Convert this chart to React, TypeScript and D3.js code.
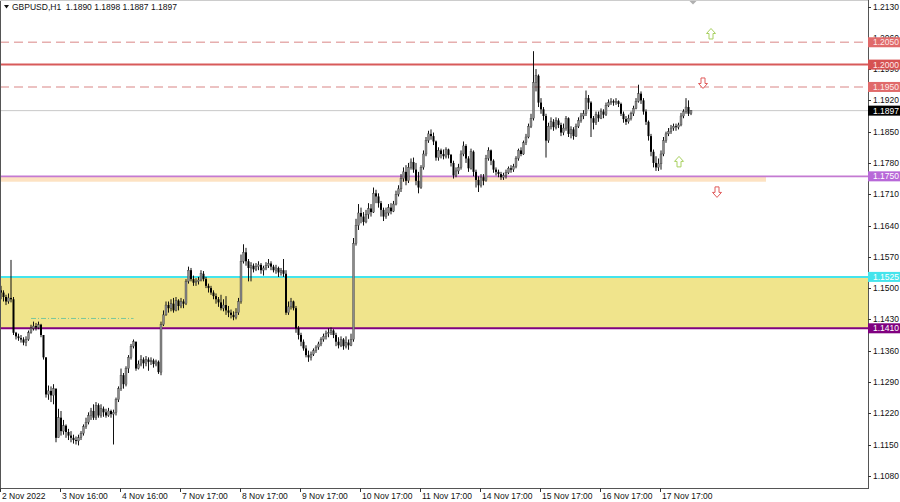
import React from 'react';
import * as d3 from 'd3';

const W = 900;
const H = 502;
const PLOT_R = 868;
const PLOT_B = 488.5;

// GBPUSD H1 candles, prices in 1e-4 units (open = previous close)
const firstOpen = 11495;
const closes = [
  11490,11480,11470,11478,11475,11400,11392,11388,11385,11378,11385,11400,11410,11415,11412,11418,11395,11345,11262,11270,
  11260,11275,11165,11210,11180,11192,11178,11170,11165,11160,11158,11165,11175,11190,11200,11215,11225,11210,11238,11215,
  11230,11222,11215,11225,11218,11222,11250,11275,11305,11285,11320,11345,11370,11380,11320,11330,11340,11332,11340,11335,
  11338,11330,11335,11312,11418,11440,11462,11455,11465,11450,11472,11460,11470,11465,11515,11540,11520,11512,11515,11518,
  11532,11520,11505,11500,11490,11482,11475,11468,11455,11462,11450,11445,11440,11435,11445,11470,11560,11580,11560,11545,
  11550,11542,11548,11552,11540,11545,11550,11555,11548,11540,11545,11535,11540,11532,11445,11458,11470,11455,11410,11395,
  11380,11365,11350,11345,11352,11360,11368,11375,11385,11392,11398,11400,11405,11395,11380,11372,11385,11370,11378,11372,
  11385,11600,11640,11668,11660,11648,11665,11678,11670,11712,11705,11690,11675,11660,11668,11680,11672,11688,11710,11722,
  11745,11760,11740,11770,11782,11765,11740,11725,11770,11800,11830,11845,11840,11828,11792,11808,11800,11795,11810,11798,
  11780,11752,11762,11770,11800,11818,11790,11768,11805,11760,11742,11730,11748,11740,11790,11808,11785,11765,11760,11755,
  11748,11752,11758,11768,11765,11772,11790,11808,11800,11825,11838,11862,11880,11960,11975,11915,11900,11885,11830,11862,
  11872,11860,11875,11865,11848,11858,11880,11845,11855,11840,11862,11875,11885,11890,11925,11915,11880,11870,11888,11880,
  11895,11888,11908,11915,11918,11915,11918,11912,11890,11878,11872,11880,11890,11902,11918,11935,11920,11895,11872,11840,
  11805,11780,11770,11778,11800,11830,11845,11850,11858,11862,11860,11865,11885,11895,11905,11890,11897,
];
const highs = [
  11505,11495,11485,11488,11563,11480,11402,11398,11395,11390,11392,11405,11418,11425,11422,11425,11420,11395,11345,11282,
  11280,11285,11275,11230,11225,11205,11195,11185,11180,11172,11168,11172,11180,11195,11210,11222,11232,11240,11245,11242,
  11240,11235,11230,11232,11228,11228,11255,11280,11320,11310,11325,11350,11375,11385,11380,11338,11350,11345,11348,11345,
  11345,11342,11340,11338,11425,11450,11470,11470,11475,11478,11480,11475,11478,11475,11520,11548,11545,11528,11522,11525,
  11540,11538,11525,11510,11505,11495,11488,11480,11485,11475,11482,11460,11452,11448,11455,11478,11575,11598,11590,11565,
  11558,11555,11556,11560,11556,11550,11558,11565,11560,11552,11552,11548,11545,11565,11540,11470,11478,11472,11460,11415,
  11400,11385,11372,11360,11358,11365,11372,11380,11390,11398,11405,11410,11412,11408,11400,11390,11392,11388,11392,11385,
  11398,11612,11655,11688,11680,11670,11675,11690,11688,11725,11720,11712,11695,11680,11680,11688,11690,11695,11718,11730,
  11755,11770,11775,11780,11790,11792,11780,11760,11775,11808,11838,11852,11855,11848,11830,11815,11812,11810,11815,11812,
  11800,11785,11770,11778,11808,11828,11822,11795,11812,11808,11765,11750,11755,11755,11798,11815,11810,11788,11770,11765,
  11760,11758,11765,11772,11775,11778,11795,11812,11815,11830,11845,11868,11890,12030,11990,11978,11925,11905,11890,11870,
  11882,11878,11882,11880,11870,11868,11885,11882,11862,11860,11868,11882,11892,11898,11942,11932,11918,11885,11895,11895,
  11902,11900,11915,11922,11925,11922,11925,11920,11915,11895,11885,11888,11895,11908,11925,11955,11940,11925,11900,11875,
  11845,11810,11795,11790,11808,11838,11850,11858,11865,11868,11868,11870,11892,11900,11925,11920,11898,
];
const lows = [
  11475,11470,11462,11465,11468,11395,11385,11382,11378,11372,11370,11382,11398,11405,11405,11408,11390,11340,11255,11250,
  11245,11240,11155,11165,11170,11172,11165,11160,11155,11152,11150,11148,11160,11170,11185,11195,11205,11205,11205,11210,
  11210,11212,11210,11212,11210,11150,11215,11245,11270,11275,11280,11310,11340,11365,11315,11318,11325,11320,11325,11315,
  11328,11322,11325,11308,11305,11415,11438,11445,11448,11445,11448,11450,11455,11455,11462,11510,11515,11505,11505,11508,
  11515,11515,11500,11490,11485,11475,11465,11458,11450,11448,11440,11435,11432,11428,11430,11440,11465,11555,11550,11515,
  11515,11535,11538,11540,11532,11528,11540,11545,11540,11535,11532,11525,11528,11525,11440,11440,11452,11450,11400,11385,
  11370,11360,11345,11335,11338,11348,11355,11362,11370,11380,11385,11390,11395,11388,11370,11365,11368,11362,11365,11362,
  11370,11380,11595,11630,11645,11640,11645,11655,11660,11668,11690,11680,11660,11650,11655,11662,11665,11670,11685,11705,
  11715,11738,11730,11735,11765,11758,11730,11712,11722,11765,11795,11825,11832,11820,11785,11785,11790,11788,11790,11790,
  11772,11745,11748,11755,11765,11795,11780,11760,11765,11750,11725,11715,11725,11730,11738,11785,11775,11758,11752,11748,
  11742,11742,11745,11755,11758,11760,11768,11785,11795,11798,11820,11835,11858,11875,11940,11905,11890,11875,11792,11825,
  11855,11852,11855,11858,11840,11842,11852,11838,11835,11832,11838,11858,11870,11878,11885,11900,11838,11855,11865,11872,
  11878,11880,11885,11905,11910,11908,11910,11905,11885,11870,11865,11868,11875,11885,11900,11915,11912,11888,11865,11830,
  11795,11770,11762,11762,11765,11795,11825,11840,11845,11852,11852,11855,11862,11880,11890,11885,11887,
];

const dateLabels = [
  '2 Nov 2022', '3 Nov 16:00', '4 Nov 16:00', '7 Nov 17:00', '8 Nov 17:00', '9 Nov 17:00',
  '10 Nov 17:00', '11 Nov 17:00', '14 Nov 17:00', '15 Nov 17:00', '16 Nov 17:00', '17 Nov 17:00',
];
const dateLabelBars = [0, 24, 48, 72, 96, 120, 144, 168, 192, 216, 240, 264];

const priceTicks = [
  1.1080, 1.1150, 1.1220, 1.1290, 1.1360, 1.1430, 1.1500, 1.1570,
  1.1640, 1.1710, 1.1780, 1.1850, 1.1920, 1.1990, 1.2060, 1.2130,
];

const dashedLevels = [1.2050, 1.1950];
const solidLevel = 1.2000;
const currentPrice = 1.1897;
const pivotLevel = 1.1750;
const pivotBandBottom = 1.1738;
const pivotBandEndBar = 306;
const zoneTop = 1.1525;
const zoneBottom = 1.1410;
const dashDotPrice = 1.1432;
const dashDotBars = [12, 53];
const upArrows = [
  { bar: 284, price: 1.20685 },
  { bar: 271.2, price: 1.17823 },
];
const downArrows = [
  { bar: 280.8, price: 1.19589 },
  { bar: 286.4, price: 1.17152 },
];

const FONT = '"Liberation Sans", Arial, sans-serif';

function arrowPath(cx: number, cy: number, up: boolean) {
  const s = up ? 1 : -1;
  const pts = [
    [cx, cy - 5.5 * s],
    [cx + 4.5, cy - 0.5 * s],
    [cx + 2, cy - 0.5 * s],
    [cx + 2, cy + 5 * s],
    [cx - 2, cy + 5 * s],
    [cx - 2, cy - 0.5 * s],
    [cx - 4.5, cy - 0.5 * s],
  ];
  return 'M' + pts.map((p) => p.join(',')).join('L') + 'Z';
}

export default function App() {
  const x = d3.scaleLinear().domain([0, 276]).range([1, 691]);
  const y = d3.scaleLinear().domain([1.1080, 1.2130]).range([475.8, 6.5]);
  const fmt = d3.format('.4f');

  const candles = closes.map((c, i) => {
    const o = i === 0 ? firstOpen : closes[i - 1];
    const hi = Math.max(highs[i], o, c) / 10000;
    const lo = Math.min(lows[i], o, c) / 10000;
    return { i, op: o / 10000, cl: c / 10000, hi, lo };
  });

  const boxH = 10;
  const labelBox = (price: number, bg: string, fg: string, key: string) => (
    <g key={key}>
      <rect x={PLOT_R} y={y(price) - boxH / 2} width={W - PLOT_R} height={boxH} fill={bg} />
      <text x={873} y={y(price) + 3} fontSize={8.5} fill={fg} fontFamily={FONT}>{fmt(price)}</text>
    </g>
  );

  return (
    <svg width={W} height={H} style={{ position: 'absolute', left: 0, top: 0, display: 'block', background: '#fff' }}>
      <rect x={0} y={0} width={W} height={H} fill="#fff" />
      {/* zone */}
      <rect x={0} y={y(zoneTop)} width={PLOT_R} height={y(zoneBottom) - y(zoneTop)} fill="#f0e48c" />
      <line x1={0} x2={PLOT_R} y1={y(zoneTop)} y2={y(zoneTop)} stroke="#44e4ec" strokeWidth={2} />
      <line x1={0} x2={PLOT_R} y1={y(zoneBottom)} y2={y(zoneBottom)} stroke="#800080" strokeWidth={2} />
      {/* pivot band */}
      <rect x={0} y={y(pivotLevel)} width={x(pivotBandEndBar)} height={y(pivotBandBottom) - y(pivotLevel)} fill="#fde2c2" />
      <line x1={0} x2={PLOT_R} y1={y(pivotLevel)} y2={y(pivotLevel)} stroke="#c47ad2" strokeWidth={1.6} />
      {/* resistance */}
      {dashedLevels.map((p) => (
        <line key={p} x1={0} x2={PLOT_R} y1={y(p)} y2={y(p)} stroke="#e6aeae" strokeWidth={1.4} strokeDasharray="9,5" />
      ))}
      <line x1={0} x2={PLOT_R} y1={y(solidLevel)} y2={y(solidLevel)} stroke="#d85a5a" strokeWidth={2} />
      <line x1={0} x2={PLOT_R} y1={y(currentPrice)} y2={y(currentPrice)} stroke="#c8c8c8" strokeWidth={1} />
      {/* dash-dot */}
      <line x1={x(dashDotBars[0])} x2={x(dashDotBars[1])} y1={y(dashDotPrice)} y2={y(dashDotPrice)}
        stroke="#5cc0a0" strokeWidth={0.8} strokeDasharray="5,2,1,2" />
      {/* candles */}
      {candles.map((d) => {
        const bull = d.cl >= d.op;
        const top = y(Math.max(d.op, d.cl));
        const bot = y(Math.min(d.op, d.cl));
        return (
          <g key={d.i}>
            <line x1={x(d.i)} x2={x(d.i)} y1={y(d.hi)} y2={y(d.lo)} stroke="#111" strokeWidth={1} />
            <rect x={x(d.i) - 1} y={top} width={2} height={Math.max(0.8, bot - top)}
              fill={bull ? '#8a8a8a' : '#000'} stroke={bull ? '#333' : 'none'} strokeWidth={0.35} />
          </g>
        );
      })}
      {/* arrows */}
      {upArrows.map((a, k) => (
        <path key={'u' + k} d={arrowPath(x(a.bar), y(a.price), true)} fill="#fff" stroke="#a8d060" strokeWidth={1} />
      ))}
      {downArrows.map((a, k) => (
        <path key={'d' + k} d={arrowPath(x(a.bar), y(a.price), false)} fill="#fff" stroke="#e05a5a" strokeWidth={1} />
      ))}
      {/* shift marker */}
      <path d={`M${x(276.8) - 3.5},1L${x(276.8) + 3.5},1L${x(276.8)},4.5Z`} fill="#b0b0b0" />
      {/* frame */}
      <line x1={0.5} x2={0.5} y1={0} y2={PLOT_B} stroke="#555" strokeWidth={1} />
      <line x1={0} x2={PLOT_R} y1={0.5} y2={0.5} stroke="#ccc" strokeWidth={1} />
      <line x1={PLOT_R + 0.5} x2={PLOT_R + 0.5} y1={0} y2={PLOT_B} stroke="#555" strokeWidth={1} />
      <line x1={0} x2={PLOT_R + 1} y1={PLOT_B} y2={PLOT_B} stroke="#555" strokeWidth={1} />
      {/* price axis */}
      {priceTicks.map((p) => (
        <g key={p}>
          <line x1={PLOT_R} x2={PLOT_R + 3} y1={Math.round(y(p)) + 0.5} y2={Math.round(y(p)) + 0.5} stroke="#333" />
          <text x={873} y={y(p) + 3} fontSize={8.5} fill="#111" fontFamily={FONT}>{fmt(p)}</text>
        </g>
      ))}
      {labelBox(1.2050, '#e06a6a', '#fde8e8', 'l1')}
      {labelBox(1.2000, '#d65252', '#fde8e8', 'l2')}
      {labelBox(1.1950, '#e06a6a', '#fde8e8', 'l3')}
      {labelBox(currentPrice, '#000', '#fff', 'l4')}
      {labelBox(pivotLevel, '#b868d8', '#fff', 'l5')}
      {labelBox(zoneTop, '#44e4ec', '#fff', 'l6')}
      {labelBox(zoneBottom, '#800080', '#fff', 'l7')}
      {/* time axis */}
      {dateLabels.map((lab, k) => {
        const xx = Math.round(x(dateLabelBars[k]) - 1) + 0.5;
        return (
          <g key={lab}>
            <line x1={xx} x2={xx} y1={PLOT_B} y2={PLOT_B + 3.5} stroke="#333" />
            <text x={xx + 1.5} y={499} fontSize={8.5} fill="#111" fontFamily={FONT}>{lab}</text>
          </g>
        );
      })}
      {/* header */}
      <path d="M4,5L9,5L6.5,8.5Z" fill="#111" />
      <text x={12} y={10} fontSize={8.5} fill="#111" fontFamily={FONT} style={{ whiteSpace: 'pre' }}>
        {'GBPUSD,H1  1.1890 1.1898 1.1887 1.1897'}
      </text>
    </svg>
  );
}
